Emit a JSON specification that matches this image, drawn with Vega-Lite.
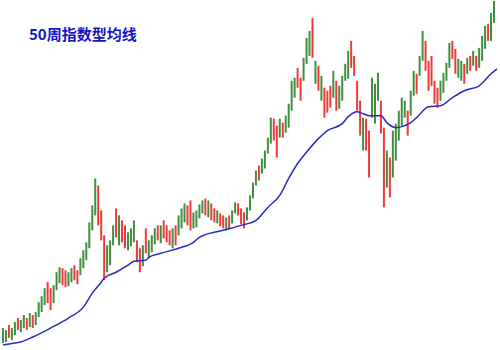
{
"$schema": "https://vega.github.io/schema/vega-lite/v6.json",
"width": 500, "height": 350,
"autosize": {"type": "fit", "contains": "padding"},
"padding": 0,
"background": "white",
"config": {"view": {"stroke": null}},
"title": {"text": "50周指数型均线", "anchor": "start", "frame": "group", "orient": "top", "offset": -43, "dx": 28, "font": "Noto Sans CJK SC", "fontSize": 15, "fontWeight": "bold", "color": "#1414c8"},
"datasets": {
"bars": [
{"w":0,"lo":7,"hi":22,"d":"up"},{"w":1,"lo":8,"hi":20,"d":"up"},{"w":2,"lo":12,"hi":25,"d":"dn"},{"w":3,"lo":10,"hi":22,"d":"up"},{"w":4,"lo":15,"hi":28,"d":"up"},{"w":5,"lo":20,"hi":32,"d":"dn"},{"w":6,"lo":18,"hi":30,"d":"up"},{"w":7,"lo":22,"hi":35,"d":"up"},{"w":8,"lo":20,"hi":32,"d":"dn"},{"w":9,"lo":23,"hi":37,"d":"up"},
{"w":10,"lo":22,"hi":35,"d":"dn"},{"w":11,"lo":25,"hi":38,"d":"up"},{"w":12,"lo":33,"hi":48,"d":"up"},{"w":13,"lo":38,"hi":54,"d":"up"},{"w":14,"lo":45,"hi":62,"d":"up"},{"w":15,"lo":47,"hi":68,"d":"dn"},{"w":16,"lo":40,"hi":62,"d":"dn"},{"w":17,"lo":47,"hi":65,"d":"up"},{"w":18,"lo":60,"hi":78,"d":"up"},{"w":19,"lo":67,"hi":83,"d":"up"},
{"w":20,"lo":65,"hi":82,"d":"dn"},{"w":21,"lo":63,"hi":80,"d":"dn"},{"w":22,"lo":64,"hi":78,"d":"up"},{"w":23,"lo":68,"hi":82,"d":"up"},{"w":24,"lo":70,"hi":85,"d":"dn"},{"w":25,"lo":66,"hi":80,"d":"dn"},{"w":26,"lo":75,"hi":92,"d":"up"},{"w":27,"lo":82,"hi":100,"d":"up"},{"w":28,"lo":90,"hi":108,"d":"up"},{"w":29,"lo":102,"hi":128,"d":"up"},
{"w":30,"lo":120,"hi":145,"d":"up"},{"w":31,"lo":135,"hi":172,"d":"up"},{"w":32,"lo":125,"hi":165,"d":"dn"},{"w":33,"lo":110,"hi":140,"d":"dn"},{"w":34,"lo":70,"hi":115,"d":"dn"},{"w":35,"lo":78,"hi":105,"d":"up"},{"w":36,"lo":85,"hi":110,"d":"up"},{"w":37,"lo":105,"hi":125,"d":"up"},{"w":38,"lo":113,"hi":142,"d":"dn"},{"w":39,"lo":105,"hi":135,"d":"up"},
{"w":40,"lo":108,"hi":130,"d":"dn"},{"w":41,"lo":102,"hi":125,"d":"dn"},{"w":42,"lo":100,"hi":118,"d":"up"},{"w":43,"lo":104,"hi":122,"d":"up"},{"w":44,"lo":108,"hi":130,"d":"up"},{"w":45,"lo":88,"hi":110,"d":"dn"},{"w":46,"lo":78,"hi":102,"d":"dn"},{"w":47,"lo":84,"hi":105,"d":"up"},{"w":48,"lo":97,"hi":122,"d":"dn"},{"w":49,"lo":92,"hi":110,"d":"up"},
{"w":50,"lo":98,"hi":115,"d":"up"},{"w":51,"lo":106,"hi":122,"d":"up"},{"w":52,"lo":110,"hi":125,"d":"dn"},{"w":53,"lo":107,"hi":125,"d":"up"},{"w":54,"lo":112,"hi":130,"d":"dn"},{"w":55,"lo":108,"hi":125,"d":"dn"},{"w":56,"lo":105,"hi":120,"d":"dn"},{"w":57,"lo":102,"hi":122,"d":"up"},{"w":58,"lo":105,"hi":125,"d":"dn"},{"w":59,"lo":115,"hi":135,"d":"up"},
{"w":60,"lo":122,"hi":142,"d":"up"},{"w":61,"lo":128,"hi":147,"d":"up"},{"w":62,"lo":125,"hi":145,"d":"dn"},{"w":63,"lo":120,"hi":150,"d":"dn"},{"w":64,"lo":122,"hi":138,"d":"up"},{"w":65,"lo":123,"hi":140,"d":"up"},{"w":66,"lo":132,"hi":146,"d":"up"},{"w":67,"lo":137,"hi":150,"d":"up"},{"w":68,"lo":135,"hi":152,"d":"dn"},{"w":69,"lo":133,"hi":150,"d":"up"},
{"w":70,"lo":130,"hi":147,"d":"dn"},{"w":71,"lo":128,"hi":142,"d":"dn"},{"w":72,"lo":127,"hi":140,"d":"up"},{"w":73,"lo":124,"hi":137,"d":"dn"},{"w":74,"lo":122,"hi":135,"d":"dn"},{"w":75,"lo":120,"hi":133,"d":"up"},{"w":76,"lo":122,"hi":135,"d":"dn"},{"w":77,"lo":127,"hi":140,"d":"up"},{"w":78,"lo":137,"hi":148,"d":"up"},{"w":79,"lo":135,"hi":147,"d":"dn"},
{"w":80,"lo":126,"hi":142,"d":"dn"},{"w":81,"lo":122,"hi":138,"d":"dn"},{"w":82,"lo":130,"hi":143,"d":"up"},{"w":83,"lo":140,"hi":155,"d":"up"},{"w":84,"lo":152,"hi":168,"d":"up"},{"w":85,"lo":165,"hi":180,"d":"up"},{"w":86,"lo":170,"hi":185,"d":"dn"},{"w":87,"lo":177,"hi":192,"d":"up"},{"w":88,"lo":182,"hi":200,"d":"up"},{"w":89,"lo":197,"hi":213,"d":"up"},
{"w":90,"lo":207,"hi":233,"d":"up"},{"w":91,"lo":210,"hi":232,"d":"dn"},{"w":92,"lo":193,"hi":225,"d":"dn"},{"w":93,"lo":213,"hi":232,"d":"up"},{"w":94,"lo":213,"hi":228,"d":"dn"},{"w":95,"lo":218,"hi":235,"d":"up"},{"w":96,"lo":223,"hi":247,"d":"up"},{"w":97,"lo":240,"hi":270,"d":"up"},{"w":98,"lo":253,"hi":273,"d":"up"},{"w":99,"lo":263,"hi":283,"d":"dn"},
{"w":100,"lo":250,"hi":273,"d":"dn"},{"w":101,"lo":270,"hi":293,"d":"up"},{"w":102,"lo":287,"hi":313,"d":"up"},{"w":103,"lo":295,"hi":320,"d":"up"},{"w":104,"lo":293,"hi":333,"d":"dn"},{"w":105,"lo":267,"hi":290,"d":"up"},{"w":106,"lo":260,"hi":285,"d":"dn"},{"w":107,"lo":250,"hi":275,"d":"up"},{"w":108,"lo":233,"hi":263,"d":"dn"},{"w":109,"lo":238,"hi":260,"d":"dn"},
{"w":110,"lo":243,"hi":265,"d":"dn"},{"w":111,"lo":253,"hi":280,"d":"up"},{"w":112,"lo":240,"hi":270,"d":"dn"},{"w":113,"lo":242,"hi":265,"d":"up"},{"w":114,"lo":250,"hi":275,"d":"up"},{"w":115,"lo":270,"hi":287,"d":"up"},{"w":116,"lo":272,"hi":300,"d":"up"},{"w":117,"lo":283,"hi":310,"d":"dn"},{"w":118,"lo":275,"hi":295,"d":"dn"},{"w":119,"lo":240,"hi":270,"d":"dn"},
{"w":120,"lo":215,"hi":250,"d":"dn"},{"w":121,"lo":200,"hi":233,"d":"up"},{"w":122,"lo":200,"hi":232,"d":"dn"},{"w":123,"lo":173,"hi":220,"d":"dn"},{"w":124,"lo":233,"hi":273,"d":"up"},{"w":125,"lo":227,"hi":267,"d":"up"},{"w":126,"lo":250,"hi":278,"d":"up"},{"w":127,"lo":217,"hi":250,"d":"dn"},{"w":128,"lo":143,"hi":223,"d":"dn"},{"w":129,"lo":163,"hi":200,"d":"up"},
{"w":130,"lo":153,"hi":193,"d":"dn"},{"w":131,"lo":173,"hi":220,"d":"up"},{"w":132,"lo":190,"hi":227,"d":"up"},{"w":133,"lo":210,"hi":240,"d":"up"},{"w":134,"lo":225,"hi":253,"d":"up"},{"w":135,"lo":233,"hi":250,"d":"up"},{"w":136,"lo":215,"hi":240,"d":"dn"},{"w":137,"lo":235,"hi":260,"d":"up"},{"w":138,"lo":255,"hi":280,"d":"up"},{"w":139,"lo":257,"hi":277,"d":"dn"},
{"w":140,"lo":275,"hi":295,"d":"up"},{"w":141,"lo":290,"hi":320,"d":"up"},{"w":142,"lo":280,"hi":310,"d":"dn"},{"w":143,"lo":260,"hi":290,"d":"dn"},{"w":144,"lo":265,"hi":295,"d":"dn"},{"w":145,"lo":247,"hi":270,"d":"dn"},{"w":146,"lo":243,"hi":263,"d":"dn"},{"w":147,"lo":250,"hi":270,"d":"up"},{"w":148,"lo":258,"hi":278,"d":"up"},{"w":149,"lo":270,"hi":288,"d":"up"},
{"w":150,"lo":283,"hi":308,"d":"up"},{"w":151,"lo":292,"hi":310,"d":"dn"},{"w":152,"lo":277,"hi":302,"d":"dn"},{"w":153,"lo":273,"hi":292,"d":"up"},{"w":154,"lo":270,"hi":290,"d":"up"},{"w":155,"lo":267,"hi":287,"d":"dn"},{"w":156,"lo":277,"hi":293,"d":"up"},{"w":157,"lo":280,"hi":295,"d":"dn"},{"w":158,"lo":285,"hi":300,"d":"up"},{"w":159,"lo":280,"hi":295,"d":"dn"},
{"w":160,"lo":283,"hi":303,"d":"up"},{"w":161,"lo":290,"hi":315,"d":"up"},{"w":162,"lo":302,"hi":325,"d":"up"},{"w":163,"lo":310,"hi":327,"d":"dn"},{"w":164,"lo":310,"hi":338,"d":"up"},{"w":165,"lo":328,"hi":350,"d":"up"}
],
"ema": [
{"w":0,"v":5},{"w":4,"v":7},{"w":6,"v":8},{"w":10,"v":13},{"w":16,"v":22},{"w":22,"v":32},{"w":27,"v":43},{"w":30,"v":57},{"w":33,"v":68},{"w":34,"v":72},{"w":38,"v":78},{"w":42,"v":85},{"w":44,"v":89},{"w":48,"v":90},{"w":49,"v":93},{"w":53,"v":97},{"w":59,"v":102},{"w":64,"v":108},{"w":66,"v":113},{"w":74,"v":120},{"w":80,"v":125},{"w":85,"v":130},{"w":89,"v":143},{"w":93,"v":155},{"w":96,"v":172},{"w":99,"v":187},{"w":103,"v":202},{"w":106,"v":212},{"w":109,"v":220},{"w":114,"v":227},{"w":116,"v":234},{"w":119,"v":239},{"w":121,"v":237},{"w":123,"v":235},{"w":127,"v":235},{"w":129,"v":228},{"w":132,"v":223},{"w":134,"v":224},{"w":137,"v":228},{"w":139,"v":233},{"w":143,"v":244},{"w":147,"v":245},{"w":151,"v":253},{"w":155,"v":260},{"w":160,"v":265},{"w":164,"v":277},{"w":166,"v":282}
]
},
"layer": [
{
"data": {"name": "bars"},
"mark": {"type": "rule", "strokeWidth": 2},
"encoding": {
"x": {"field": "w", "type": "quantitative", "scale": {"domain": [-0.667, 166], "nice": false, "zero": false}, "axis": null},
"y": {"field": "lo", "type": "quantitative", "scale": {"domain": [0, 350], "nice": false}, "axis": null},
"y2": {"field": "hi"},
"color": {"field": "d", "type": "nominal", "scale": {"domain": ["up", "dn"], "range": ["#3f8f3f", "#ee3a3a"]}, "legend": null}
}
},
{
"data": {"name": "ema"},
"mark": {"type": "line", "color": "#2a2ac4", "strokeWidth": 1.5, "interpolate": "monotone"},
"encoding": {
"x": {"field": "w", "type": "quantitative"},
"y": {"field": "v", "type": "quantitative"}
}
}
]
}
